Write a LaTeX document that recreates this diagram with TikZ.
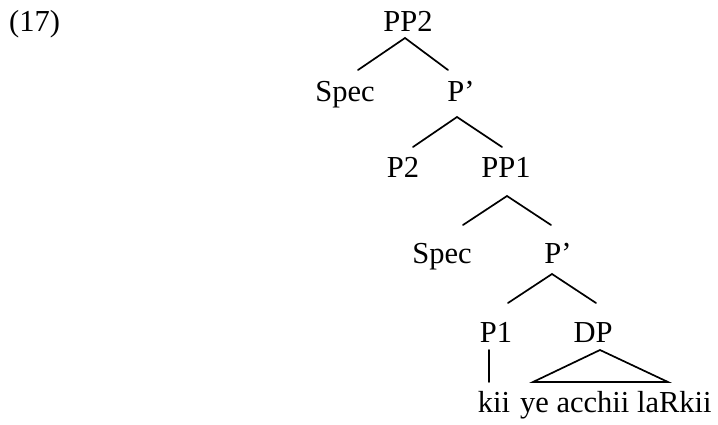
\documentclass[tikz,border=0pt]{standalone}
\usepackage{fontspec}
\setmainfont{Liberation Serif}
\begin{document}
\begin{tikzpicture}[x=1pt,y=1pt,
  lab/.style={anchor=base,inner sep=0pt,font=\fontsize{30.5}{33}\selectfont},
  edge/.style={line width=1.7pt,line cap=round,line join=miter}]
\useasboundingbox (0,0) rectangle (718,-425);
% labels
\node[lab,anchor=base west] (ex) at (9,-32) {(17)};
\node[lab] (pp2) at (408,-32) {PP2};
\node[lab] (spec1) at (345,-102) {Spec};
\node[lab] (pbar1) at (461,-102) {P’};
\node[lab] (p2) at (403,-178) {P2};
\node[lab] (pp1) at (506,-178) {PP1};
\node[lab] (spec2) at (442,-263) {Spec};
\node[lab] (pbar2) at (558,-263) {P’};
\node[lab] (p1) at (496,-342) {P1};
\node[lab] (dp) at (593,-342) {DP};
\node[lab] (kii) at (494,-412) {kii};
\node[lab,anchor=base west] (phrase) at (520,-412) {ye acchii laRkii};
% connector end points
\coordinate (pp2b) at (405,-38);
\coordinate (spec1t) at (358,-70);
\coordinate (pbar1t) at (448,-70);
\coordinate (pbar1b) at (457,-117);
\coordinate (p2t) at (413,-147);
\coordinate (pp1t) at (502,-147);
\coordinate (pp1b) at (507,-196);
\coordinate (spec2t) at (463,-225);
\coordinate (pbar2t) at (551,-225);
\coordinate (pbar2b) at (552,-274);
\coordinate (p1t) at (508,-303);
\coordinate (dpt) at (596,-303);
\coordinate (p1b) at (489,-350);
\coordinate (kiit) at (489,-382);
\coordinate (dpb) at (600,-350);
\coordinate (phl) at (533,-382);
\coordinate (phr) at (668,-382);
% connectors
\draw[edge] (spec1t) -- (pp2b) -- (pbar1t);
\draw[edge] (p2t) -- (pbar1b) -- (pp1t);
\draw[edge] (spec2t) -- (pp1b) -- (pbar2t);
\draw[edge] (p1t) -- (pbar2b) -- (dpt);
\draw[edge] (p1b) -- (kiit);
\draw[edge] (dpb) -- (phl) -- (phr) -- cycle;
\end{tikzpicture}
\end{document}
